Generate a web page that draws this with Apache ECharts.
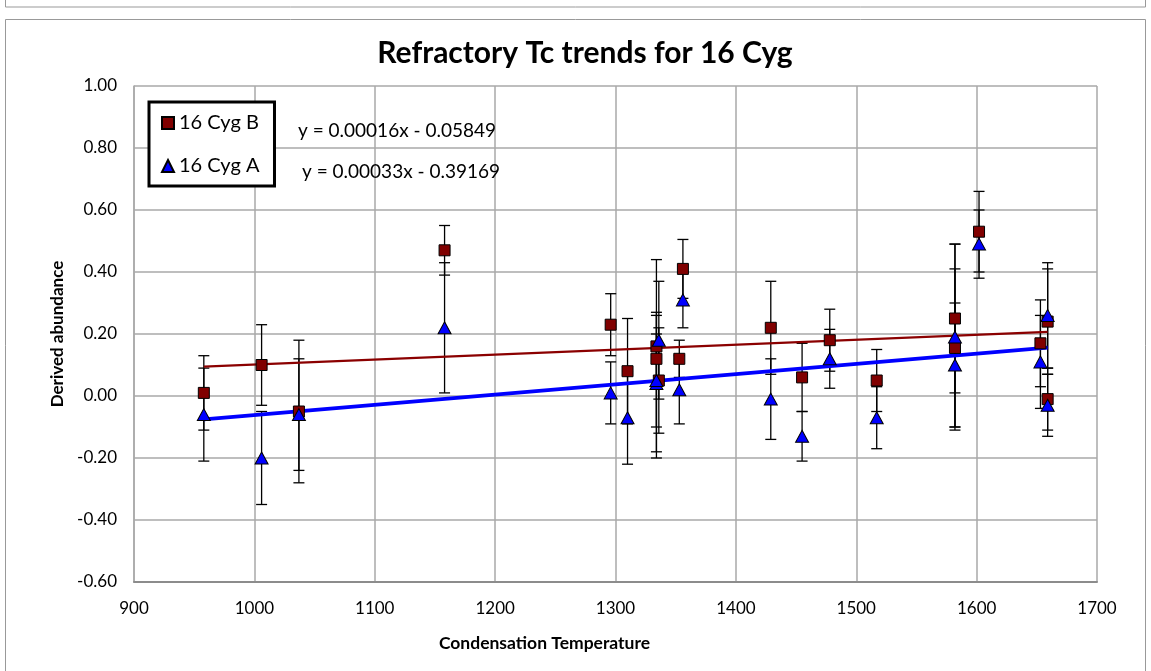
<!DOCTYPE html>
<html>
<head>
<meta charset="utf-8">
<script src="https://cdn.jsdelivr.net/npm/echarts@6/dist/echarts.min.js"></script>
<style>
  html, body { margin: 0; padding: 0; background: #fff; }
  #chart { width: 1151px; height: 671px; }
</style>
</head>
<body>
<div id="chart"></div>
<script>
// Condensation temperatures (K) of the refractory elements
const tc = [958, 1006, 1037, 1158, 1296, 1310, 1334, 1334, 1336, 1353, 1356,
            1429, 1455, 1478, 1517, 1582, 1582, 1602, 1653, 1659, 1659];

// 16 Cyg B abundances and uncertainties
const cygB = [0.01, 0.10, -0.05, 0.47, 0.23, 0.08, 0.16, 0.12, 0.05, 0.12, 0.41,
              0.22, 0.06, 0.18, 0.05, 0.25, 0.155, 0.53, 0.17, 0.24, -0.01];
const cygBErr = [0.12, 0.13, 0.23, 0.08, 0.10, 0.17, 0.11, 0.32, 0.17, 0.06, 0.095,
                 0.15, 0.11, 0.10, 0.10, 0.24, 0.255, 0.13, 0.14, 0.17, 0.10];

// 16 Cyg A abundances and uncertainties
const cygA = [-0.06, -0.20, -0.06, 0.22, 0.01, -0.07, 0.04, 0.05, 0.18, 0.02, 0.31,
              -0.01, -0.13, 0.12, -0.07, 0.19, 0.10, 0.49, 0.11, 0.26, -0.03];
const cygAErr = [0.15, 0.15, 0.18, 0.21, 0.10, 0.15, 0.22, 0.15, 0.19, 0.11, 0.09,
                 0.13, 0.08, 0.095, 0.10, 0.30, 0.20, 0.11, 0.15, 0.17, 0.10];

// Linear fits: [16 Cyg B, 16 Cyg A]
const fitSlope = [0.00016, 0.00033];
const fitIntercept = [-0.05849, -0.39169];

const seriesNames = ['16 Cyg B', '16 Cyg A'];
const xTicks = [900, 1000, 1100, 1200, 1300, 1400, 1500, 1600, 1700];
const yTicks = [-0.60, -0.40, -0.20, 0.00, 0.20, 0.40, 0.60, 0.80, 1.00];

const FONT = 'Lato, "Open Sans", sans-serif';
const RED = '#800000';
const BLUE = '#0000ff';

const tMin = Math.min(...tc), tMax = Math.max(...tc);
const fitLine = k => [tMin, tMax].map(t => [t, fitSlope[k] * t + fitIntercept[k]]);
const equation = k => 'y = ' + fitSlope[k].toFixed(5) + 'x ' +
  (fitIntercept[k] < 0 ? '- ' : '+ ') + Math.abs(fitIntercept[k]).toFixed(5);

const pts = (vals) => tc.map((t, i) => [t, vals[i]]);
const errPts = (vals, errs) => tc.map((t, i) => [t, vals[i], errs[i]]);

// vertical error bar with caps
function errorBar(params, api) {
  const x = api.value(0), y = api.value(1), e = api.value(2);
  const hi = api.coord([x, y + e]);
  const lo = api.coord([x, y - e]);
  const w = 5.5;
  const st = { stroke: '#000', lineWidth: 1.3 };
  return {
    type: 'group',
    children: [
      { type: 'line', shape: { x1: hi[0], y1: hi[1], x2: lo[0], y2: lo[1] }, style: st },
      { type: 'line', shape: { x1: hi[0] - w, y1: hi[1], x2: hi[0] + w, y2: hi[1] }, style: st },
      { type: 'line', shape: { x1: lo[0] - w, y1: lo[1], x2: lo[0] + w, y2: lo[1] }, style: st }
    ]
  };
}

const chart = echarts.init(document.getElementById('chart'), null, { renderer: 'canvas' });

chart.setOption({
  backgroundColor: '#fff',
  animation: false,
  title: {
    text: 'Refractory Tc trends for 16 Cyg',
    left: 580,
    textAlign: 'center',
    top: 33,
    textStyle: { fontFamily: FONT, fontWeight: 'bold', fontSize: 30, color: '#000' }
  },
  grid: { left: 134, right: 54, top: 86, bottom: 89 },
  legend: {
    orient: 'vertical',
    left: 149,
    top: 102,
    padding: [11, 15, 10, 12],
    itemGap: 23,
    itemWidth: 12,
    itemHeight: 12,
    borderColor: '#000',
    borderWidth: 3,
    backgroundColor: '#fff',
    textStyle: { fontFamily: FONT, fontSize: 20, color: '#000' },
    data: [{ name: seriesNames[0], icon: 'rect' }, { name: seriesNames[1], icon: 'triangle' }]
  },
  xAxis: {
    type: 'value',
    min: xTicks[0],
    max: xTicks[xTicks.length - 1],
    interval: 100,
    name: 'Condensation Temperature',
    nameLocation: 'middle',
    nameGap: 52,
    nameTextStyle: { fontFamily: FONT, fontWeight: 'bold', fontSize: 17.5, color: '#000', padding: [0, 142, 0, 0] },
    axisLine: { show: true, onZero: false, lineStyle: { color: '#8c8c8c', width: 2 } },
    axisTick: { show: false },
    axisLabel: { margin: 18, fontFamily: FONT, fontSize: 17, color: '#000',
                 formatter: v => String(v) },
    splitLine: { show: true, lineStyle: { color: '#a8a8a8', width: 1.5 } }
  },
  yAxis: {
    type: 'value',
    min: yTicks[0],
    max: yTicks[yTicks.length - 1],
    interval: 0.2,
    name: 'Derived abundance',
    nameLocation: 'middle',
    nameGap: 62,
    nameRotate: 90,
    nameTextStyle: { fontFamily: FONT, fontWeight: 'bold', fontSize: 17, color: '#000' },
    axisLine: { show: true, lineStyle: { color: '#a8a8a8', width: 1.5 } },
    axisTick: { show: false },
    axisLabel: { margin: 17, fontFamily: FONT, fontSize: 17, color: '#000',
                 formatter: v => v.toFixed(2) },
    splitLine: { show: true, lineStyle: { color: '#a8a8a8', width: 1.5 } }
  },
  graphic: [
    { type: 'rect', silent: true, z: -10,
      shape: { x: 5.5, y: -10, width: 1140, height: 17 },
      style: { fill: 'none', stroke: '#999', lineWidth: 1 } },
    { type: 'rect', silent: true, z: -10,
      shape: { x: 5.5, y: 19.5, width: 1140, height: 700 },
      style: { fill: 'none', stroke: '#999', lineWidth: 1 } },
    { type: 'text', x: 298, y: 131, z: 100,
      style: { text: equation(0), fontFamily: FONT, fontSize: 19, fill: '#000', verticalAlign: 'middle' } },
    { type: 'text', x: 302, y: 172, z: 100,
      style: { text: equation(1), fontFamily: FONT, fontSize: 19, fill: '#000', verticalAlign: 'middle' } }
  ],
  series: [
    { type: 'custom', name: 'errB', renderItem: errorBar, data: errPts(cygB, cygBErr), z: 1,
      encode: { x: 0, y: 1 }, silent: true },
    { type: 'custom', name: 'errA', renderItem: errorBar, data: errPts(cygA, cygAErr), z: 1,
      encode: { x: 0, y: 1 }, silent: true },
    { type: 'line', name: 'fitB', data: fitLine(0), symbol: 'none', z: 2, silent: true,
      lineStyle: { color: '#8b0000', width: 2.2 } },
    { type: 'line', name: 'fitA', data: fitLine(1), symbol: 'none', z: 2, silent: true,
      lineStyle: { color: BLUE, width: 3.8 } },
    { type: 'scatter', name: seriesNames[0], data: pts(cygB), symbol: 'rect', symbolSize: 11, z: 3,
      itemStyle: { color: RED, borderColor: '#000', borderWidth: 1, opacity: 1 } },
    { type: 'scatter', name: seriesNames[1], data: pts(cygA), symbol: 'triangle', symbolSize: [13, 12], z: 4,
      itemStyle: { color: BLUE, borderColor: '#000', borderWidth: 1, opacity: 1 } }
  ]
});
</script>
</body>
</html>
